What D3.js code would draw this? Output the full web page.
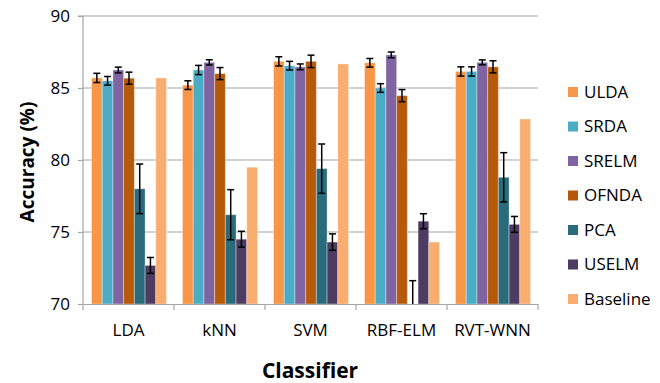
<!DOCTYPE html>
<html>
<head>
<meta charset="utf-8">
<script src="https://cdn.jsdelivr.net/npm/d3@7"></script>
<style>
  body { margin: 0; background: #fff; }
  svg { display: block; font-family: "Open Sans", sans-serif; }
</style>
</head>
<body>
<svg id="chart" width="660" height="383"></svg>
<script>
const classifiers = ["LDA", "kNN", "SVM", "RBF-ELM", "RVT-WNN"];
const methods = ["ULDA", "SRDA", "SRELM", "OFNDA", "PCA", "USELM", "Baseline"];
const colors = ["#F79646", "#4BACC6", "#8064A2", "#B65A0A", "#296B7B", "#4D3B62", "#F9AD6F"];

// accuracy per method, one value per classifier
const ULDA     = [85.7, 85.2, 86.85, 86.75, 86.15];
const SRDA     = [85.5, 86.25, 86.55, 85.0, 86.15];
const SRELM    = [86.25, 86.78, 86.47, 87.3, 86.78];
const OFNDA    = [85.68, 86.0, 86.85, 84.47, 86.47];
const PCA      = [78.0, 76.2, 79.4, 69.9, 78.8];
const USELM    = [72.68, 74.5, 74.3, 75.75, 75.53];
const Baseline = [85.7, 79.5, 86.67, 74.3, 82.85];

// standard deviations (error bars); Baseline has none
const ULDA_err  = [0.32, 0.3, 0.32, 0.3, 0.32];
const SRDA_err  = [0.3, 0.32, 0.3, 0.3, 0.32];
const SRELM_err = [0.2, 0.18, 0.2, 0.2, 0.17];
const OFNDA_err = [0.42, 0.42, 0.43, 0.42, 0.42];
const PCA_err   = [1.72, 1.74, 1.71, 1.72, 1.71];
const USELM_err = [0.55, 0.55, 0.57, 0.52, 0.55];

const yTicks = [70, 75, 80, 85, 90];

const values = [ULDA, SRDA, SRELM, OFNDA, PCA, USELM, Baseline];
const errors = [ULDA_err, SRDA_err, SRELM_err, OFNDA_err, PCA_err, USELM_err, null];

const svg = d3.select("#chart");
const mLeft = 83, mRight = 538, mTop = 16, mBottom = 304;

const x0 = d3.scaleBand().domain(classifiers).range([mLeft, mRight]);
const x1 = d3.scaleBand().domain(methods).range([8.5, x0.bandwidth() - 7.5]);
const y = d3.scaleLinear().domain([70, 90]).range([mBottom, mTop]);
const color = d3.scaleOrdinal().domain(methods).range(colors);

svg.append("defs").append("clipPath").attr("id", "plot")
  .append("rect").attr("x", mLeft).attr("y", mTop - 10).attr("width", mRight - mLeft).attr("height", mBottom - mTop + 10);

// gridlines
svg.append("g")
  .selectAll("line")
  .data(yTicks.slice(1))
  .join("line")
  .attr("x1", mLeft).attr("x2", mRight)
  .attr("y1", d => y(d)).attr("y2", d => y(d))
  .attr("stroke", "#A6A6A6").attr("stroke-width", 1.2);

// y axis
const yAxis = svg.append("g")
  .attr("transform", `translate(${mLeft},0)`)
  .call(d3.axisLeft(y).tickValues(yTicks).tickSize(5).tickPadding(8));
yAxis.select(".domain").attr("stroke", "#A6A6A6").attr("stroke-width", 1.2).attr("d", `M-5,${mTop}H0V${mBottom + 6}`);
yAxis.selectAll(".tick line").attr("stroke", "#A6A6A6").attr("stroke-width", 1.2);
yAxis.selectAll(".tick text").attr("font-size", 17).attr("fill", "#000").attr("font-family", "Open Sans");

const rows = (c, ci) => methods.map((m, mi) => ({ m, v: values[mi][ci], e: errors[mi] ? errors[mi][ci] : null }));

// bars
const groups = svg.append("g")
  .attr("clip-path", "url(#plot)")
  .selectAll("g")
  .data(classifiers)
  .join("g")
  .attr("transform", d => `translate(${x0(d)},0)`);

groups.selectAll("rect")
  .data(rows)
  .join("rect")
  .attr("x", d => x1(d.m))
  .attr("width", x1.bandwidth())
  .attr("y", d => Math.min(y(d.v), mBottom))
  .attr("height", d => Math.max(0, mBottom - y(d.v)))
  .attr("fill", d => color(d.m))
  .attr("stroke", "rgba(255,255,255,0.35)")
  .attr("stroke-width", 1);

// error bars
const eb = groups.selectAll("g.err")
  .data((c, ci) => rows(c, ci).filter(d => d.e !== null))
  .join("g")
  .attr("class", "err")
  .attr("stroke", "#000")
  .attr("stroke-width", 1.5);

eb.append("line")
  .attr("x1", d => x1(d.m) + x1.bandwidth() / 2)
  .attr("x2", d => x1(d.m) + x1.bandwidth() / 2)
  .attr("y1", d => y(d.v + d.e))
  .attr("y2", d => y(d.v - d.e));
eb.selectAll("line.cap")
  .data(d => [d.v + d.e, d.v - d.e].map(t => ({ m: d.m, t })))
  .join("line")
  .attr("class", "cap")
  .attr("x1", d => x1(d.m) + x1.bandwidth() / 2 - 3.5)
  .attr("x2", d => x1(d.m) + x1.bandwidth() / 2 + 3.5)
  .attr("y1", d => y(d.t))
  .attr("y2", d => y(d.t));

// x axis
const xAxis = svg.append("g")
  .attr("transform", `translate(0,${mBottom})`)
  .call(d3.axisBottom(x0).tickSize(0).tickPadding(20));
xAxis.select(".domain").attr("stroke", "#A6A6A6").attr("stroke-width", 1.2);
xAxis.selectAll(".tick text").attr("font-size", 17).attr("fill", "#000").attr("font-family", "Open Sans");
svg.append("g")
  .selectAll("line")
  .data(classifiers)
  .join("line")
  .attr("x1", d => x0(d) + x0.bandwidth()).attr("x2", d => x0(d) + x0.bandwidth())
  .attr("y1", mBottom).attr("y2", mBottom + 6)
  .attr("stroke", "#A6A6A6").attr("stroke-width", 1.2);

// axis titles
svg.append("text")
  .attr("transform", `translate(34,162) rotate(-90)`)
  .attr("text-anchor", "middle")
  .attr("font-size", 19).attr("font-weight", "bold")
  .text("Accuracy (%)");

svg.append("text")
  .attr("x", 310).attr("y", 378)
  .attr("text-anchor", "middle")
  .attr("font-size", 21).attr("font-weight", "bold")
  .text("Classifier");

// legend
const legend = svg.append("g")
  .selectAll("g")
  .data(methods)
  .join("g")
  .attr("transform", (d, i) => `translate(568,${92 + i * 34.5})`);
legend.append("rect")
  .attr("x", 0).attr("y", -5).attr("width", 10).attr("height", 10)
  .attr("fill", d => color(d));
legend.append("text")
  .attr("x", 16).attr("dy", "0.35em")
  .attr("font-size", 17)
  .text(d => d);
</script>
</body>
</html>
